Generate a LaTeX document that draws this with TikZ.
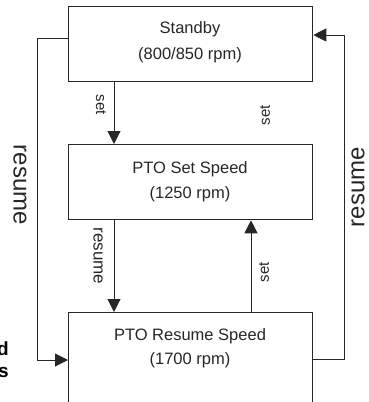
\documentclass[tikz,border=0pt]{standalone}
\usepackage{fontspec}
\setmainfont{Liberation Sans}
\usetikzlibrary{arrows.meta}
\begin{document}
\begin{tikzpicture}[x=1pt,y=-1pt,
  state/.style={draw=black!85, line width=1.3pt, minimum width=244pt, minimum height=75pt, inner sep=0pt, anchor=north west},
  txt/.style={font=\fontsize{16.5}{19}\selectfont, anchor=base, inner sep=0pt, text=black!85},
  conn/.style={draw=black!85, line width=1pt},
  arr/.style={conn, -{Triangle[width=13pt,length=13pt]}},
  lbl/.style={font=\fontsize{15}{18}\selectfont, inner sep=0pt, text=black!85},
  mlbl/.style={font=\fontsize{17}{20}\selectfont, inner sep=0pt, text=black!85},
  big/.style={font=\fontsize{24}{30}\selectfont, inner sep=0pt, text=black!85},
  bold/.style={font=\fontsize{19}{22}\selectfont\bfseries, inner sep=0pt, anchor=base east},
]
\useasboundingbox (0,0) rectangle (369,402);
% states
\node[state] (standby) at (68,6) {};
\node[state] (setspeed) at (68,144) {};
\node[state, minimum height=110pt] (resspeed) at (68,312) {};
% state texts
\node[txt] (t1a) at (190,33) {Standby};
\node[txt] (t1b) at (190,59) {(800/850 rpm)};
\node[txt] (t2a) at (190,173) {PTO Set Speed};
\node[txt] (t2b) at (190,198) {(1250 rpm)};
\node[txt] (t3a) at (190,340) {PTO Resume Speed};
\node[txt] (t3b) at (190,364) {(1700 rpm)};
% helper coordinates
\coordinate (cL) at (114,0);
\coordinate (cR) at (251,0);
\coordinate (lw) at (37,38);
\coordinate (lb) at (37,360);
\coordinate (rw) at (344,35);
\coordinate (rb) at (344,359);
% connectors
\draw[arr] (standby.south -| cL) -- (setspeed.north -| cL);
\draw[arr] (setspeed.south -| cL) -- (resspeed.north -| cL);
\draw[arr] (resspeed.north -| cR) -- (setspeed.south -| cR);
\draw[arr] (standby.west |- lw) -- (lw) -- (lb) -- (resspeed.west |- lb);
\draw[arr] (resspeed.east |- rb) -- (rb) -- (rw) -- (standby.east |- rw);
% labels
\node[lbl, rotate=-90] (l1) at (101,105) {set};
\node[lbl, rotate=90] (l2) at (265,115) {set};
\node[mlbl, rotate=-90] (l3) at (98,256) {resume};
\node[lbl, rotate=90] (l4) at (264,272) {set};
\node[big, rotate=-90] (l5) at (20,185) {resume};
\node[big, rotate=90] (l6) at (358,187) {resume};
% cut-off bold text
\node[bold] (bd) at (9,355) {d};
\node[bold] (bs) at (9,377) {s};
\end{tikzpicture}
\end{document}
